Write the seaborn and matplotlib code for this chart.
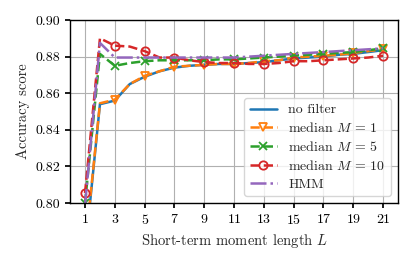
import numpy as np
import pandas as pd
import matplotlib
matplotlib.use('Agg')
import matplotlib.pyplot as plt
import seaborn as sns

L = list(range(1, 22))

no_filter = [0.773, 0.854, 0.856, 0.865, 0.869, 0.872, 0.874, 0.875, 0.8755, 0.876, 0.876,
             0.8765, 0.877, 0.878, 0.879, 0.8795, 0.880, 0.881, 0.8815, 0.8825, 0.8835]
median_1 = [0.775, 0.8545, 0.8565, 0.865, 0.8695, 0.872, 0.8745, 0.875, 0.8755, 0.876, 0.876,
            0.8765, 0.8775, 0.878, 0.8795, 0.880, 0.8805, 0.881, 0.882, 0.883, 0.884]
median_5 = [0.800, 0.8815, 0.875, 0.8765, 0.8775, 0.878, 0.878, 0.878, 0.878, 0.8785, 0.8785,
            0.879, 0.8795, 0.880, 0.8805, 0.881, 0.8815, 0.882, 0.8825, 0.8835, 0.8845]
median_10 = [0.8055, 0.890, 0.886, 0.8855, 0.883, 0.8795, 0.8795, 0.878, 0.877, 0.8765, 0.8765,
             0.876, 0.876, 0.8765, 0.8775, 0.8775, 0.878, 0.8785, 0.879, 0.8795, 0.8805]
hmm = [0.799, 0.8875, 0.8795, 0.8795, 0.8795, 0.8795, 0.8795, 0.8795, 0.8795, 0.8795, 0.8795,
       0.880, 0.8805, 0.881, 0.8815, 0.882, 0.8825, 0.883, 0.8835, 0.884, 0.8845]

sns.set_theme(style="whitegrid")
plt.rcParams.update({
    'font.family': ['cmr10', 'DejaVu Serif'],
    'mathtext.fontset': 'cm',
    'axes.formatter.use_mathtext': True,
    'axes.edgecolor': 'black',
    'axes.linewidth': 1.0,
    'grid.color': '#b0b0b0',
    'grid.linewidth': 0.8,
    'xtick.bottom': True,
    'ytick.left': True,
    'xtick.color': 'black',
    'ytick.color': 'black',
    'xtick.major.size': 3.5,
    'ytick.major.size': 3.5,
    'xtick.labelsize': 10,
    'ytick.labelsize': 10,
    'axes.labelsize': 10.5,
})

fig = plt.figure(figsize=(4.15, 2.6), dpi=100)
ax = fig.add_axes([0.169, 0.219, 0.79, 0.704])

series = [
    ('no filter', no_filter, 'tab:blue', '-', None),
    ('median $M\\,=\\,1$', median_1, 'tab:orange', '--', 'v'),
    ('median $M\\,=\\,5$', median_5, 'tab:green', '--', 'x'),
    ('median $M\\,=\\,10$', median_10, 'tab:red', '--', 'o'),
    ('HMM', hmm, 'tab:purple', '-.', None),
]

for name, vals, col, ls, mk in series:
    df = pd.DataFrame({'L': L, 'acc': vals})
    kw = {}
    if mk is not None:
        kw = dict(marker=mk, markevery=2, markersize=6,
                  markerfacecolor='none', markeredgecolor=col, markeredgewidth=1.3)
    sns.lineplot(data=df, x='L', y='acc', ax=ax, color=col, linestyle=ls,
                 linewidth=1.8, label=name, **kw)

ax.set_xlim(0, 22)
ax.set_ylim(0.80, 0.90)
ax.set_xticks(range(1, 22, 2))
ax.set_yticks([0.80, 0.82, 0.84, 0.86, 0.88, 0.90])
ax.set_yticklabels(['0.80', '0.82', '0.84', '0.86', '0.88', '0.90'])
ax.set_xlabel('Short-term moment length $L$')
ax.set_ylabel('Accuracy score')
for s in ax.spines.values():
    s.set_color('black')
leg = ax.legend(loc='lower right', fontsize=10, frameon=True, fancybox=True,
                framealpha=0.8, edgecolor='#cccccc', borderaxespad=0.5,
                labelspacing=0.35)

fig.savefig('out.png', dpi=100)
